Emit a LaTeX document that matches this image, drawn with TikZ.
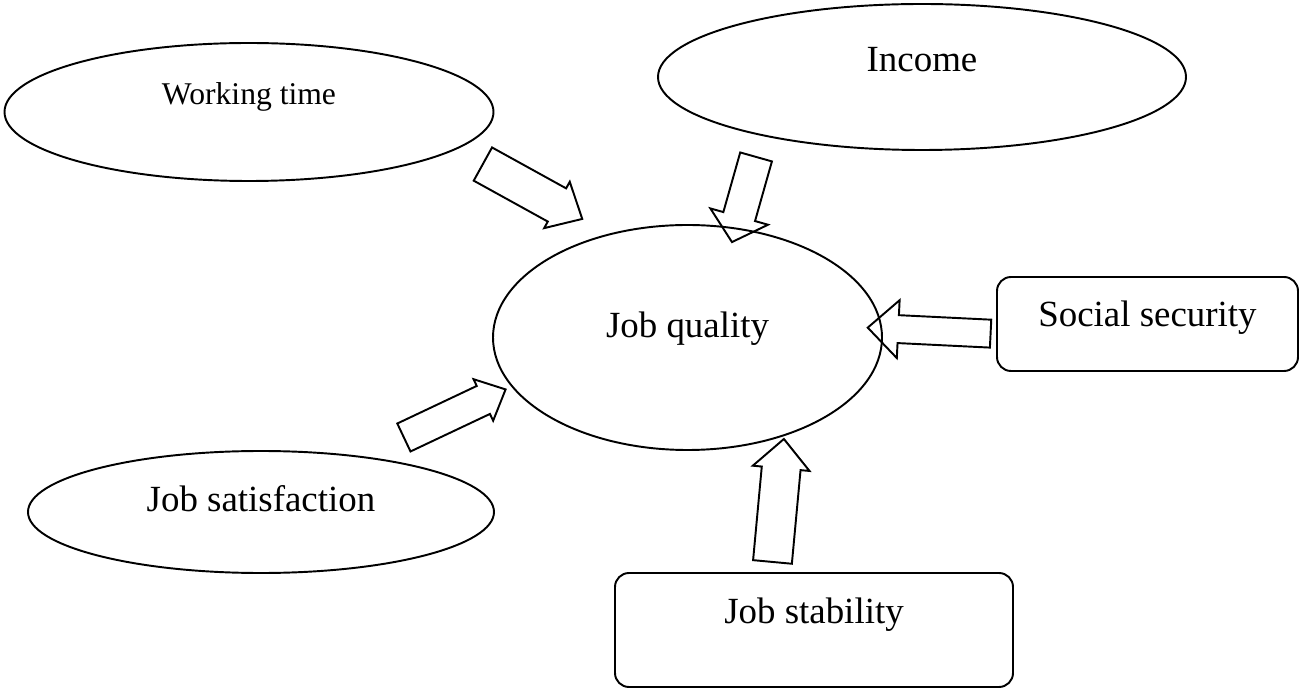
\documentclass[tikz,border=0pt]{standalone}
\usepackage{fontspec}
\setmainfont{Liberation Serif}
\usetikzlibrary{shapes}

\begin{document}
\begin{tikzpicture}[%
  oval/.style={draw=black,line width=1.1pt,ellipse,inner sep=0pt,text height=0.5cm,font=\fontsize{21}{25}\selectfont},
  box/.style={draw=black,line width=1.1pt,rectangle,rounded corners=0.28cm,inner sep=0pt,text height=0.5cm,font=\fontsize{21}{25}\selectfont},
  flow/.style={draw=black,line width=1.1pt,single arrow,inner sep=0pt,text depth=0pt}
]
\useasboundingbox (0,0) rectangle (25.98,-13.78);

\node [oval,minimum width=9.78cm,minimum height=2.76cm,text height=0.434cm,text depth=0.714cm,font=\fontsize{18}{22}\selectfont] (time) at (4.98,-2.24) {Working time};
\node [oval,minimum width=10.56cm,minimum height=2.92cm,text depth=0.7cm] (income) at (18.44,-1.54) {Income};
\node [oval,minimum width=7.78cm,minimum height=4.5cm,text depth=0.5cm] (quality) at (13.75,-6.75) {Job quality};
\node [oval,minimum width=9.32cm,minimum height=2.44cm,text depth=0.54cm] (satisf) at (5.22,-10.24) {Job satisfaction};
\node [box,minimum width=6.02cm,minimum height=1.88cm,text depth=0.38cm] (security) at (22.95,-6.48) {Social security};
\node [box,minimum width=7.96cm,minimum height=2.28cm,text depth=0.78cm] (stability) at (16.28,-12.6) {Job stability};

\node [flow,rotate=-28.9,minimum height=2.27cm,text height=0.72cm,single arrow head extend=0.15cm,single arrow tip angle=85] (timearr) at (10.47,-3.73) {};
\node [flow,rotate=-105.8,minimum height=1.77cm,text height=0.62cm,single arrow head extend=0.27cm,single arrow tip angle=97] (incomearr) at (14.92,-3.85) {};
\node [flow,rotate=177.2,minimum height=2.46cm,text height=0.52cm,single arrow head extend=0.3cm,single arrow tip angle=87] (securityarr) at (18.73,-6.62) {};
\node [flow,rotate=25.3,minimum height=2.25cm,text height=0.58cm,single arrow head extend=0.15cm,single arrow tip angle=86] (satisfarr) at (8.945,-8.34) {};
\node [flow,rotate=84.7,minimum height=2.47cm,text height=0.74cm,single arrow head extend=0.18cm,single arrow tip angle=88] (stabilityarr) at (15.545,-10.21) {};
\end{tikzpicture}
\end{document}
